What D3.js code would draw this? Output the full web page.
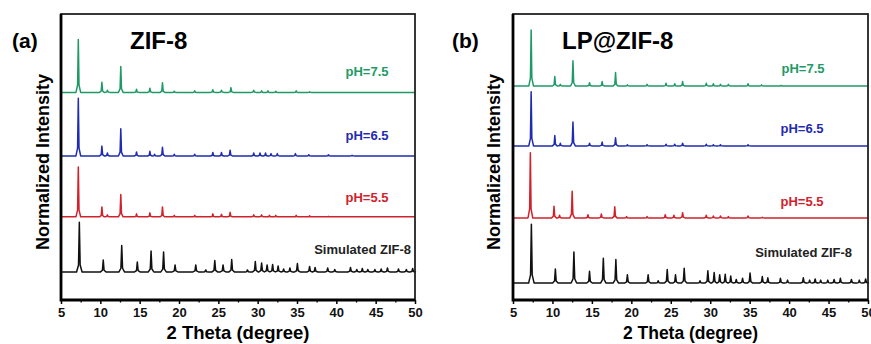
<!DOCTYPE html>
<html lang="en">
<head>
<meta charset="utf-8">
<title>ZIF-8 and LP@ZIF-8 XRD patterns</title>
<script src="https://d3js.org/d3.v7.min.js"></script>
<style>
  body { margin: 0; background: #fff; }
  svg { font-family: Arial, 'Liberation Sans', sans-serif; font-weight: bold; }
  .tick text { font-size: 13px; font-weight: bold; }
</style>
</head>
<body>
<div id="chart"></div>
<script>

// x axis (2 theta, degree)
var xTicks = [5, 10, 15, 20, 25, 30, 35, 40, 45, 50];

// peak lists: [2 theta, relative intensity]
var simulated = [[7.33,1.0],[10.37,0.24],[12.72,0.53],[14.7,0.2],[16.45,0.42],[18.04,0.4],[19.5,0.14],
  [22.13,0.14],[23.4,0.04],[24.55,0.23],[25.6,0.14],[26.7,0.25],[28.7,0.04],[29.7,0.21],[30.5,0.18],
  [31.2,0.14],[31.9,0.15],[32.6,0.12],[33.3,0.06],[34.1,0.08],[35.05,0.17],[36.6,0.11],[37.3,0.09],
  [38.9,0.08],[39.8,0.05],[41.8,0.09],[42.6,0.05],[43.3,0.07],[44.0,0.05],[44.9,0.05],[45.7,0.06],
  [46.5,0.08],[47.9,0.06],[48.9,0.05],[49.7,0.07]];

var zif_ph55 = [[7.2,1.0],[10.2,0.2],[10.9,0.04],[12.6,0.45],[14.6,0.06],[16.3,0.08],[17.9,0.2],[19.4,0.03],
  [22.0,0.03],[24.3,0.06],[25.4,0.05],[26.5,0.09],[29.5,0.04],[30.5,0.04],[31.5,0.03],[32.3,0.03],
  [34.9,0.03],[36.6,0.02],[39.0,0.01]];
var zif_ph65 = [[7.2,1.0],[10.2,0.17],[10.9,0.05],[12.6,0.47],[14.6,0.07],[16.3,0.08],[16.9,0.03],[17.9,0.15],
  [19.4,0.03],[22.0,0.03],[24.3,0.06],[25.4,0.06],[26.5,0.1],[29.5,0.05],[30.3,0.05],[31.0,0.05],
  [31.7,0.04],[32.5,0.04],[34.8,0.04],[36.5,0.02],[39.0,0.02],[42.0,0.01]];
var zif_ph75 = [[7.2,1.0],[10.2,0.19],[10.9,0.04],[12.6,0.49],[14.6,0.06],[16.3,0.08],[17.9,0.18],[19.4,0.02],
  [22.0,0.03],[24.3,0.05],[25.4,0.04],[26.6,0.09],[29.5,0.04],[30.5,0.03],[31.3,0.03],[32.3,0.02],
  [34.9,0.03],[36.6,0.01]];

var lp_ph55 = [[7.2,1.0],[10.2,0.18],[10.9,0.04],[12.5,0.41],[14.5,0.05],[16.2,0.06],[17.9,0.17],[19.4,0.02],
  [22.0,0.02],[24.3,0.05],[25.4,0.04],[26.5,0.08],[29.5,0.04],[30.4,0.03],[31.3,0.03],[32.3,0.02],
  [34.8,0.03],[36.6,0.01]];
var lp_ph65 = [[7.3,1.0],[10.3,0.19],[11.0,0.05],[12.6,0.44],[14.7,0.05],[16.3,0.07],[18.0,0.15],[19.5,0.02],
  [22.0,0.02],[24.4,0.03],[25.5,0.03],[26.5,0.05],[29.5,0.03],[30.4,0.02],[31.3,0.02],[34.8,0.02]];
var lp_ph75 = [[7.3,1.0],[10.3,0.17],[11.0,0.03],[12.6,0.45],[14.7,0.06],[16.3,0.08],[18.0,0.24],[19.5,0.02],
  [22.0,0.03],[24.4,0.05],[25.5,0.04],[26.5,0.08],[29.5,0.05],[30.4,0.04],[31.3,0.03],[32.3,0.03],
  [34.8,0.04],[36.5,0.02],[39.0,0.01]];

// trace stacking: [baseline offset, amplitude] in normalized units
var leftOffsets  = [[0.53,0.94],[1.57,0.94],[2.72,1.09],[3.92,1.0]];
var rightOffsets = [[0.32,1.11],[1.55,1.23],[2.91,1.02],[4.04,1.06]];

var traceColours = ["#111111", "#d1222b", "#1f2bb0", "#1f9a66"];
var traceLabels  = ["Simulated ZIF-8", "pH=5.5", "pH=6.5", "pH=7.5"];

var width = 871, height = 344;

var svg = d3.select("#chart")
  .append("svg")
    .attr("width", width)
    .attr("height", height);

// turn a peak list into a polyline: flat baseline between narrow peaks
function pattern(peaks, hw) {
  var pts = [[5, 0]];
  peaks.forEach(function(p) {
    pts.push([p[0] - hw, 0]);
    pts.push([p[0] - hw * 0.3, p[1] * 0.14]);
    pts.push([p[0], p[1]]);
    pts.push([p[0] + hw * 0.3, p[1] * 0.14]);
    pts.push([p[0] + hw, 0]);
  });
  pts.push([50, 0]);
  return pts;
}

function drawPanel(cfg) {
  var g = svg.append("g");

  var x = d3.scaleLinear().domain([5, 50]).range([cfg.left, cfg.right]);
  var y = d3.scaleLinear().domain([0, 5.4]).range([cfg.bottom, cfg.top]);

  // traces
  cfg.traces.forEach(function(peaks, i) {
    var off = cfg.offsets[i];
    var hw = i == 0 ? 0.35 : 0.3;
    g.append("path")
      .datum(pattern(peaks, hw))
      .attr("fill", "none")
      .attr("stroke", traceColours[i])
      .attr("stroke-width", 1.5)
      .attr("stroke-linejoin", "round")
      .attr("d", d3.line()
        .x(function(d) { return x(d[0]); })
        .y(function(d) { return y(off[0] + d[1] * off[1]); }));

    g.append("text")
      .attr("x", cfg.labelX[i])
      .attr("y", cfg.labelY[i])
      .attr("text-anchor", i == 0 ? "end" : "middle")
      .attr("fill", i == 0 ? "#222" : traceColours[i])
      .style("font-size", "13px")
      .text(traceLabels[i]);
  });

  // frame
  g.append("rect")
    .attr("x", cfg.left).attr("y", cfg.top)
    .attr("width", cfg.right - cfg.left).attr("height", cfg.bottom - cfg.top)
    .attr("fill", "none").attr("stroke", "#222").attr("stroke-width", 1.8);
  g.append("path")
    .attr("d", "M" + cfg.left + "," + cfg.top + "V" + cfg.bottom + "H" + cfg.right)
    .attr("fill", "none").attr("stroke", "#000").attr("stroke-width", 2.8);

  // x axis
  var ax = g.append("g")
    .attr("transform", "translate(0," + cfg.bottom + ")")
    .call(d3.axisBottom(x).tickValues(xTicks).tickSize(4).tickSizeOuter(0).tickPadding(4));
  ax.select(".domain").remove();
  ax.selectAll(".tick line").attr("stroke-width", 1.5);
  ax.selectAll(".tick text").attr("fill", "#111");

  g.append("g")
    .attr("transform", "translate(0," + cfg.bottom + ")")
    .call(d3.axisBottom(x).tickValues(d3.range(7.5, 50, 5)).tickSize(2.5).tickFormat(""))
    .call(function(s) { s.select(".domain").remove(); s.selectAll(".tick line").attr("stroke-width", 1.3); });

  // axis titles
  g.append("text")
    .attr("x", (cfg.left + cfg.right) / 2)
    .attr("y", 339)
    .attr("text-anchor", "middle")
    .style("font-size", cfg.xTitleSize + "px")
    .text("2 Theta (degree)");

  g.append("text")
    .attr("transform", "translate(" + cfg.yTitleX + ",162) rotate(-90)")
    .attr("text-anchor", "middle")
    .style("font-size", "18px")
    .text("Normalized Intensity");

  // panel tag and title
  g.append("text")
    .attr("x", cfg.tagX).attr("y", 48)
    .style("font-size", "21px")
    .text(cfg.tag);
  g.append("text")
    .attr("x", cfg.titleX).attr("y", 49)
    .style("font-size", "24px")
    .text(cfg.title);
}

drawPanel({
  left: 61, right: 415, top: 14, bottom: 300,
  traces: [simulated, zif_ph55, zif_ph65, zif_ph75],
  offsets: leftOffsets,
  labelX: [411, 367, 367, 367],
  labelY: [254, 202, 140, 76],
  xTitleSize: 18.5, yTitleX: 49,
  tag: "(a)", tagX: 12,
  title: "ZIF-8", titleX: 130
});

drawPanel({
  left: 513, right: 868, top: 14, bottom: 300,
  traces: [simulated, lp_ph55, lp_ph65, lp_ph75],
  offsets: rightOffsets,
  labelX: [852, 802, 802, 803],
  labelY: [257, 206, 133, 73],
  xTitleSize: 17.5, yTitleX: 500,
  tag: "(b)", tagX: 452,
  title: "LP@ZIF-8", titleX: 562
});

</script>
</body>
</html>
